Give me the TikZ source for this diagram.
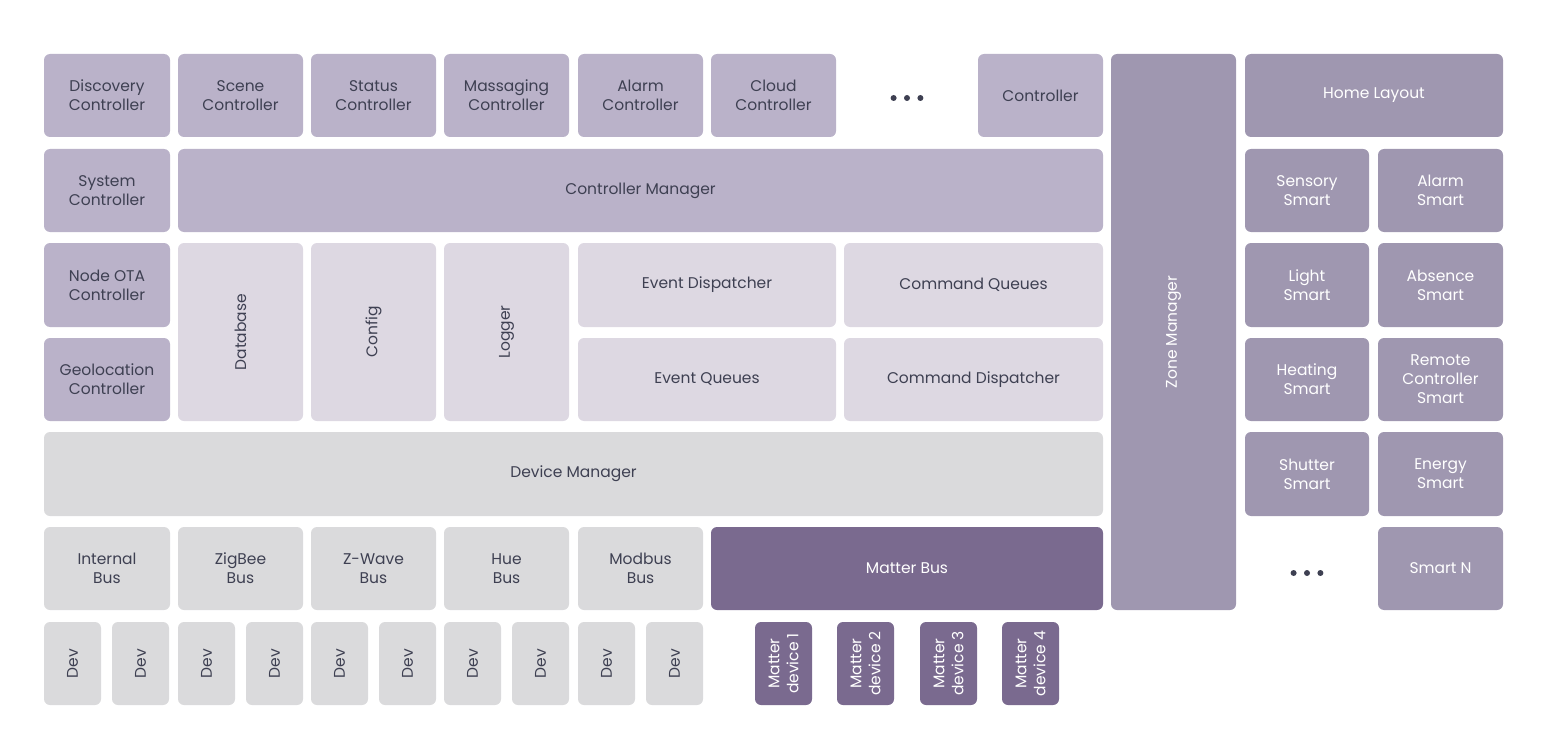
\documentclass[tikz,border=0pt]{standalone}
\usepackage{fontspec}
\setmainfont{Poppins}
\usepackage{xcolor}
\usepackage{tikz}
\usetikzlibrary{positioning}
\definecolor{CtrlFill}{RGB}{186, 178, 201}
\definecolor{CoreFill}{RGB}{221, 216, 226}
\definecolor{BusFill}{RGB}{218, 218, 220}
\definecolor{MatterFill}{RGB}{122, 106, 143}
\definecolor{SmartFill}{RGB}{159, 151, 176}
\definecolor{InkDark}{RGB}{62, 64, 82}

\tikzset{
  blk/.style={rounded corners=6pt, align=center, inner sep=0pt,
    font=\fontsize{15.5}{19}\selectfont, text=InkDark},
  ctrlbox/.style={blk, fill=CtrlFill},
  corebox/.style={blk, fill=CoreFill},
  busbox/.style={blk, fill=BusFill},
  matterbox/.style={blk, fill=MatterFill, text=white},
  smartbox/.style={blk, fill=SmartFill, text=white},
  dotmark/.style={circle, fill=InkDark, inner sep=0pt, minimum size=6pt}
}

% box from corner (x1,y1) to corner (x2,y2), pixel units
\newcommand{\placebox}[7]{%
  \node[#2, minimum width={(#5-#3)*1pt}, minimum height={(#6-#4)*1pt}]
    (#1) at ({(#3+#5)/2},{(#4+#6)/2}) {#7};}
% same, text turned upright
\newcommand{\placevbox}[7]{%
  \node[#2, rotate=90, minimum width={(#6-#4)*1pt}, minimum height={(#5-#3)*1pt}]
    (#1) at ({(#3+#5)/2},{(#4+#6)/2}) {#7};}

\begin{document}
\begin{tikzpicture}[x=1pt, y=-1pt]
  \useasboundingbox (0,0) rectangle (1547,749);

  % controllers
  \placebox{discovery}{ctrlbox}{44}{54}{170}{137}{Discovery\\Controller}
  \placebox{scene}{ctrlbox}{178}{54}{303}{137}{Scene\\Controller}
  \placebox{status}{ctrlbox}{311}{54}{436}{137}{Status\\Controller}
  \placebox{massaging}{ctrlbox}{444}{54}{569}{137}{Massaging\\Controller}
  \placebox{alarmctrl}{ctrlbox}{578}{54}{703}{137}{Alarm\\Controller}
  \placebox{cloud}{ctrlbox}{711}{54}{836}{137}{Cloud\\Controller}
  \placebox{ctrlN}{ctrlbox}{978}{54}{1103}{137}{Controller}
  \node[dotmark] (td2) at (907,98) {};
  \node[dotmark, left=7pt of td2] (td1) {};
  \node[dotmark, right=7pt of td2] (td3) {};

  \placebox{system}{ctrlbox}{44}{149}{170}{232}{System\\Controller}
  \placebox{ctrlmgr}{ctrlbox}{178}{149}{1103}{232}{Controller Manager}
  \placebox{nodeota}{ctrlbox}{44}{243}{170}{327}{Node OTA\\Controller}
  \placebox{geoloc}{ctrlbox}{44}{338}{170}{421}{Geolocation\\Controller}

  % core services
  \placevbox{database}{corebox}{178}{243}{303}{421}{Database}
  \placevbox{config}{corebox}{311}{243}{436}{421}{Config}
  \placevbox{logger}{corebox}{444}{243}{569}{421}{Logger}
  \placebox{evdisp}{corebox}{578}{243}{836}{327}{Event Dispatcher}
  \placebox{cmdq}{corebox}{844}{243}{1103}{327}{Command Queues}
  \placebox{evq}{corebox}{578}{338}{836}{421}{Event Queues}
  \placebox{cmddisp}{corebox}{844}{338}{1103}{421}{Command Dispatcher}

  % device layer
  \placebox{devmgr}{busbox}{44}{432}{1103}{516}{Device Manager}
  \placebox{internal}{busbox}{44}{527}{170}{610}{Internal\\Bus}
  \placebox{zigbee}{busbox}{178}{527}{303}{610}{ZigBee\\Bus}
  \placebox{zwave}{busbox}{311}{527}{436}{610}{Z-Wave\\Bus}
  \placebox{hue}{busbox}{444}{527}{569}{610}{Hue\\Bus}
  \placebox{modbus}{busbox}{578}{527}{703}{610}{Modbus\\Bus}
  \placebox{matter}{matterbox}{711}{527}{1103}{610}{Matter Bus}

  \foreach \i/\x in {1/44, 2/112, 3/178, 4/246, 5/311, 6/379, 7/444, 8/512, 9/578, 10/646}
    \placevbox{dev\i}{busbox}{\x}{622}{\x+57}{705}{Dev};
  \foreach \i/\x in {1/755, 2/837, 3/920, 4/1002}
    \placevbox{mdev\i}{matterbox}{\x}{622}{\x+57}{705}{Matter\\device \i};

  % zones and smarts
  \placevbox{zonemgr}{smartbox}{1111}{54}{1236}{610}{Zone Manager}
  \placebox{homelayout}{smartbox}{1245}{54}{1503}{137}{Home Layout}
  \placebox{sensory}{smartbox}{1245}{149}{1369}{232}{Sensory\\Smart}
  \placebox{alarmsmart}{smartbox}{1378}{149}{1503}{232}{Alarm\\Smart}
  \placebox{light}{smartbox}{1245}{243}{1369}{327}{Light\\Smart}
  \placebox{absence}{smartbox}{1378}{243}{1503}{327}{Absence\\Smart}
  \placebox{heating}{smartbox}{1245}{338}{1369}{421}{Heating\\Smart}
  \placebox{remote}{smartbox}{1378}{338}{1503}{421}{Remote\\Controller\\Smart}
  \placebox{shutter}{smartbox}{1245}{432}{1369}{516}{Shutter\\Smart}
  \placebox{energy}{smartbox}{1378}{432}{1503}{516}{Energy\\Smart}
  \placebox{smartN}{smartbox}{1378}{527}{1503}{610}{Smart N}
  \node[dotmark] (bd2) at (1307,573) {};
  \node[dotmark, left=7pt of bd2] (bd1) {};
  \node[dotmark, right=7pt of bd2] (bd3) {};
\end{tikzpicture}
\end{document}
